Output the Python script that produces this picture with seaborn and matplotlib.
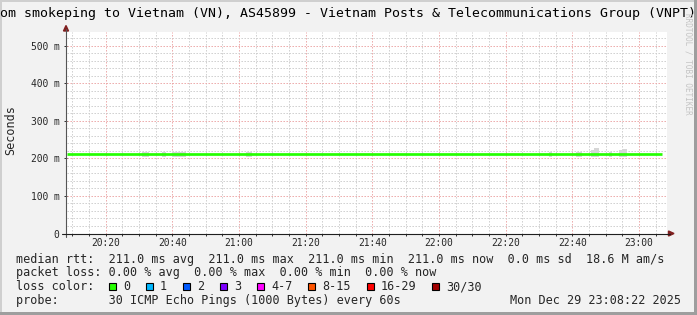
import matplotlib
matplotlib.use("Agg")
import matplotlib.pyplot as plt
import matplotlib.dates as mdates
from matplotlib.patches import Rectangle, Polygon
import seaborn as sns
import pandas as pd

# ---------------- data ----------------
DAY = "2025-12-29"
title_text = "om smokeping to Vietnam (VN), AS45899 - Vietnam Posts & Telecommunications Group (VNPT)"
x_start = "20:08:22"
x_end = "23:08:22"

median_times = ["20:08:22", "20:30", "21:00", "21:30", "22:00", "22:30", "23:00", "23:07"]
median_rtt_ms = [211.0, 211.0, 211.0, 211.0, 211.0, 211.0, 211.0, 211.0]

smoke_start = ["20:31", "20:37", "20:40", "21:02", "22:33", "22:41", "22:45:30", "22:46:30", "22:51", "22:54", "22:55"]
smoke_end = ["20:33", "20:38", "20:44", "21:04", "22:34", "22:43", "22:46:30", "22:48", "22:52", "22:55", "22:56:30"]
smoke_top_ms = [217.0, 216.5, 217.0, 217.0, 217.0, 218.0, 221.0, 227.5, 217.0, 221.0, 225.0]

y_ticks_ms = [0, 100, 200, 300, 400, 500]
y_tick_labels = ["0", "100 m", "200 m", "300 m", "400 m", "500 m"]
y_label = "Seconds"
y_max_ms = 535.7

legend_row1 = "median rtt:  211.0 ms avg  211.0 ms max  211.0 ms min  211.0 ms now  0.0 ms sd  18.6 M am/s"
legend_row2 = "packet loss: 0.00 % avg  0.00 % max  0.00 % min  0.00 % now"
loss_title = "loss color:"
loss_labels = ["0", "1", "2", "3", "4-7", "8-15", "16-29", "30/30"]
loss_colors = ["#26ff00", "#00b8ff", "#0059ff", "#7e00ff", "#ff00ff", "#ff5500", "#ff0000", "#a10000"]
probe_text = "probe:       30 ICMP Echo Pings (1000 Bytes) every 60s"
date_text = "Mon Dec 29 23:08:22 2025"
watermark = "RRDTOOL / TOBI OETIKER"

# ---------------- style ----------------
W, H = 697, 315
sns.set_theme(style="white")
plt.rcParams["font.family"] = ["DejaVu Sans Mono", "DejaVu Sans"]
BG = "#f2f2f2"

fig = plt.figure(figsize=(W / 100, H / 100), dpi=100, facecolor=BG)


def fx(x):
    return x / W


def fy(y):
    return 1 - y / H


X0, X1, Y0, Y1 = 67, 667, 233.5, 32.3
ax = fig.add_axes([fx(X0), fy(Y0), (X1 - X0) / W, (Y0 - Y1) / H])
ax.set_facecolor("white")

ts = lambda s: pd.Timestamp(f"{DAY} {s}")

# smoke
for s0, s1, top in zip(smoke_start, smoke_end, smoke_top_ms):
    ax.fill_between([ts(s0), ts(s1)], [205, 205], [top, top], color="#d6d6d6", lw=0, zorder=2)

# median line
df = pd.DataFrame({"time": [ts(t) for t in median_times], "rtt": median_rtt_ms})
sns.lineplot(data=df, x="time", y="rtt", ax=ax, color="#26ff00", lw=1.95,
             legend=False, zorder=3, solid_capstyle="butt")

ax.set_xlim(ts(x_start), ts(x_end))
ax.set_ylim(0, y_max_ms)

ax.xaxis.set_major_locator(mdates.MinuteLocator(byminute=[0, 20, 40]))
ax.xaxis.set_minor_locator(mdates.MinuteLocator(byminute=list(range(0, 60, 5))))
ax.xaxis.set_major_formatter(mdates.DateFormatter("%H:%M"))
ax.set_yticks(y_ticks_ms)
ax.set_yticklabels(y_tick_labels)
ax.set_yticks([v for v in range(0, 540, 20) if v % 100], minor=True)

dot = (0, (1.4, 1.6))
ax.grid(True, which="minor", color="#cdcdcd", lw=0.72, ls=dot, zorder=1)
ax.grid(True, which="major", color="#eca6a6", lw=0.72, ls=dot, zorder=1)
ax.set_axisbelow(True)

ax.set_xlabel("")
ax.set_ylabel("")
for sp in ax.spines.values():
    sp.set_visible(False)

ax.tick_params(axis="x", which="both", direction="out", length=1.6, width=0.7,
               color="#303030", labelsize=6.9, pad=1.6, bottom=True)
ax.tick_params(axis="y", which="major", direction="out", length=2.2, width=0.7,
               color="#303030", labelsize=6.9, pad=3.2, left=True)
ax.tick_params(axis="y", which="minor", left=False)

# axis lines and arrows (figure pixel coordinates)
tf = fig.transFigure
fig.add_artist(plt.Line2D([fx(66), fx(66)], [fy(236.5), fy(29)], color="#555555", lw=0.8, transform=tf))
fig.add_artist(plt.Line2D([fx(62), fx(670)], [fy(233.5), fy(233.5)], color="#1f1f1f", lw=0.8, transform=tf))
fig.add_artist(Polygon([[fx(63.5), fy(31)], [fx(68.5), fy(31)], [fx(66), fy(25.5)]],
                       closed=True, color="#801f1f", transform=tf))
fig.add_artist(Polygon([[fx(668.5), fy(231)], [fx(668.5), fy(236)], [fx(674), fy(233.5)]],
                       closed=True, color="#801f1f", transform=tf))

# frame shades
fig.add_artist(Rectangle((0, 0), fx(2), 1, color="#cfcfcf", transform=tf, lw=0))
fig.add_artist(Rectangle((0, fy(2)), 1, 2 / H, color="#cfcfcf", transform=tf, lw=0))
fig.add_artist(Rectangle((fx(694), 0), 3 / W, 1, color="#9e9e9e", transform=tf, lw=0))
fig.add_artist(Rectangle((0, 0), 1, 3 / H, color="#9e9e9e", transform=tf, lw=0))

# title
fig.text(fx(0.5), fy(17.5), title_text, ha="left", va="baseline", fontsize=9.57, color="black")
# watermark
fig.text(fx(688), fy(64), watermark, rotation=270, ha="center", va="center",
         fontsize=5.5, color="#c4c4c4")
# y label
fig.text(fx(11), fy(130), y_label, rotation=90, ha="center", va="center", fontsize=8.5)

# legend
LX = 16
fig.text(fx(LX), fy(262.5), legend_row1, ha="left", va="baseline", fontsize=8.5)
fig.text(fx(LX), fy(276.3), legend_row2, ha="left", va="baseline", fontsize=8.5)
fig.text(fx(LX), fy(290.2), loss_title, ha="left", va="baseline", fontsize=8.5)
bx = 108.4
for lab, col in zip(loss_labels, loss_colors):
    fig.add_artist(Rectangle((fx(bx + 0.5), fy(290.3)), 7 / W, 7.5 / H, facecolor=col,
                             edgecolor="black", lw=0.8, transform=tf))
    fig.text(fx(bx + 14.5), fy(290.2), lab, ha="left", va="baseline", fontsize=8.5)
    bx += 29.9 + 7.11 * len(lab)
fig.text(fx(LX), fy(304), probe_text, ha="left", va="baseline", fontsize=8.5)
fig.text(fx(680.5), fy(304), date_text, ha="right", va="baseline", fontsize=8.5)

fig.savefig("out.png", dpi=100, facecolor=BG)
